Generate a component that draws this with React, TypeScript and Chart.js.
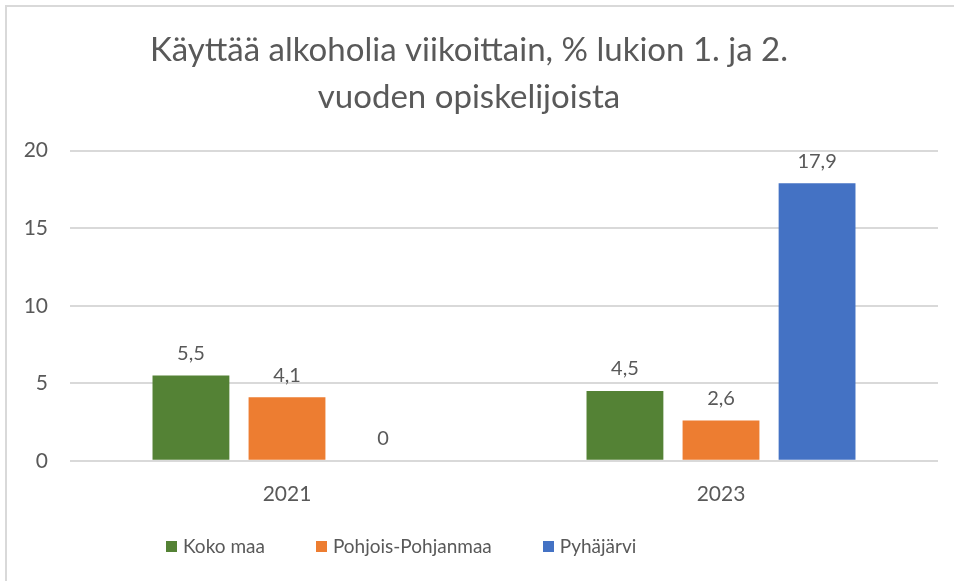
import React, { useEffect, useRef } from "react";
import { Chart, registerables } from "chart.js";

Chart.register(...registerables);

const categories = ["2021", "2023"];
const seriesNames = ["Koko maa", "Pohjois-Pohjanmaa", "Pyhäjärvi"];
const kokoMaa = [5.5, 4.5];
const pohjoisPohjanmaa = [4.1, 2.6];
const pyhajarvi = [0, 17.9];
const seriesColors = ["#548235", "#ED7D31", "#4472C4"];
const titleLines = ["Käyttää alkoholia viikoittain, % lukion 1. ja 2.", "vuoden opiskelijoista"];

const FONT = "Lato, 'Open Sans', sans-serif";
const TEXT = "#595959";

const valueLabels = {
  id: "valueLabels",
  afterDatasetsDraw(chart: any) {
    const ctx = chart.ctx;
    ctx.save();
    ctx.font = `20px ${FONT}`;
    ctx.fillStyle = TEXT;
    ctx.textAlign = "center";
    ctx.textBaseline = "middle";
    chart.data.datasets.forEach((ds: any, i: number) => {
      const meta = chart.getDatasetMeta(i);
      meta.data.forEach((bar: any, j: number) => {
        const v = ds.data[j];
        ctx.fillText(String(v).replace(".", ","), bar.x, bar.y - 22);
      });
    });
    ctx.restore();
  },
};

export default function App() {
  const ref = useRef<HTMLCanvasElement>(null);
  useEffect(() => {
    document.body.style.margin = "0";
    const data = [kokoMaa, pohjoisPohjanmaa, pyhajarvi];
    const chart = new Chart(ref.current!, {
      type: "bar",
      data: {
        labels: categories,
        datasets: seriesNames.map((n, i) => ({
          label: n,
          data: data[i],
          backgroundColor: seriesColors[i],
          categoryPercentage: 0.664,
          barPercentage: 0.8,
        })),
      },
      options: {
        animation: false,
        responsive: false,
        maintainAspectRatio: false,
        layout: { padding: { left: 0, right: 16, top: 0, bottom: 53 } },
        plugins: {
          title: {
            display: true,
            text: titleLines,
            color: TEXT,
            font: { family: FONT, size: 33, weight: "normal", lineHeight: 1.42 },
            padding: { top: 27, bottom: 30 },
          },
          legend: { display: false },
          tooltip: { enabled: false },
        },
        scales: {
          x: {
            grid: { display: false, drawTicks: false },
            border: { display: false },
            ticks: { color: TEXT, font: { family: FONT, size: 21 }, padding: 21 },
          },
          y: {
            min: 0,
            max: 20,
            ticks: { stepSize: 5, color: TEXT, font: { family: FONT, size: 21 }, padding: 22 },
            grid: { color: "#D9D9D9", lineWidth: 2, drawTicks: false },
            border: { display: false },
            afterFit(scale: any) {
              scale.width = 70;
            },
          },
        },
      },
      plugins: [valueLabels],
    });
    return () => chart.destroy();
  }, []);
  return (
    <div style={{ position: "relative", width: 954, height: 581, background: "#fff", fontFamily: FONT }}>
      <canvas ref={ref} width={954} height={581} style={{ position: "absolute", left: 0, top: 0 }} />
      <div
        style={{
          position: "absolute",
          left: 5,
          top: 5,
          right: 0,
          bottom: 0,
          borderLeft: "2px solid #D9D9D9",
          borderTop: "2px solid #D9D9D9",
          pointerEvents: "none",
        }}
      />
      <div
        style={{
          position: "absolute",
          left: 166,
          top: 533,
          display: "flex",
          alignItems: "center",
          gap: 51,
          color: TEXT,
          fontSize: 19,
          lineHeight: "26px",
          whiteSpace: "nowrap",
        }}
      >
        {seriesNames.map((n, i) => (
          <div key={n} style={{ display: "flex", alignItems: "center" }}>
            <span style={{ display: "inline-block", width: 11, height: 11, background: seriesColors[i], marginRight: 6 }} />
            <span>{n}</span>
          </div>
        ))}
      </div>
    </div>
  );
}
